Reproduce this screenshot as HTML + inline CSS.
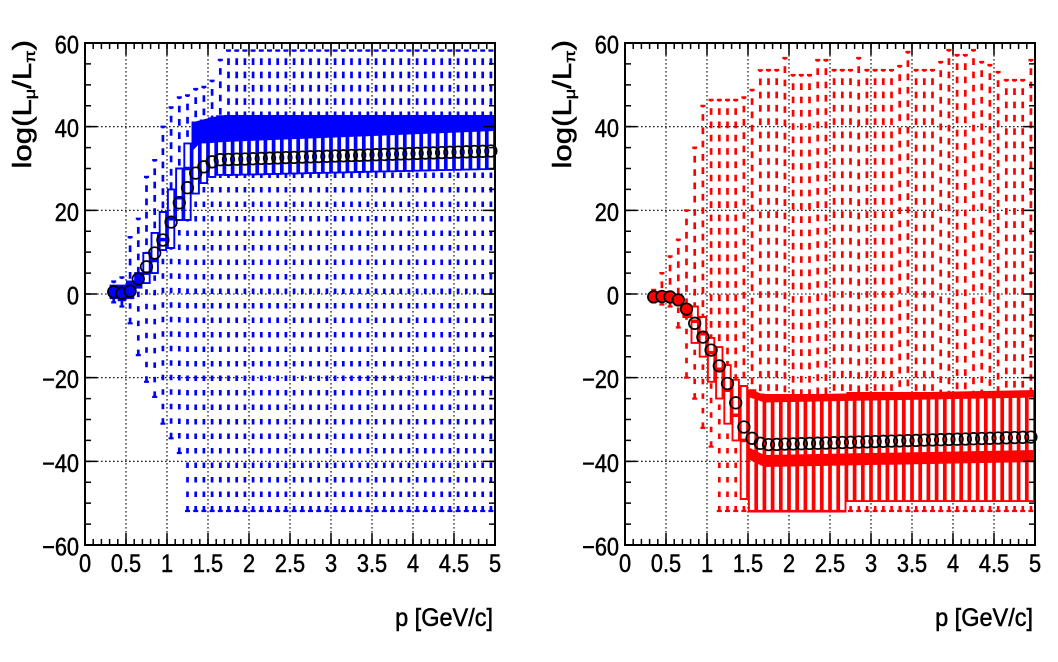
<!DOCTYPE html>
<html><head><meta charset="utf-8"><style>
html,body{margin:0;padding:0;background:#fff}
svg{display:block}
.t{font-family:"Liberation Sans",Arial,sans-serif;font-size:25px;fill:#000;stroke:#000;stroke-width:0.5}
.grid{fill:none;stroke:#000;stroke-width:1.1;stroke-dasharray:1.6 2.4;opacity:1}
.b{stroke:#0000ff}.r{stroke:#ff0000}
.wu{fill:none;stroke-width:2.7;stroke-dasharray:6.7 6.6;stroke-dashoffset:5}
.wl{fill:none;stroke-width:2.7;stroke-dasharray:5.5 9}
.cap{fill:none;stroke-width:2.2}
.box{fill:none;stroke-width:1.9}
.med{fill:none;stroke-width:3.5}
.mc{fill:none;stroke:#000;stroke-width:1.7}
.mc circle{r:5.8px}
.tk{stroke:#000;fill:none}
</style></head><body>
<svg width="1058" height="662" viewBox="0 0 1058 662" xmlns="http://www.w3.org/2000/svg">
<rect x="0" y="0" width="1058" height="662" fill="#fff"/>

<!-- ===== LEFT PANEL ===== -->
<path class="grid" d="M126 43V545M167 43V545M208 43V545M249 43V545M290 43V545M331 43V545M372 43V545M413 43V545M454 43V545M85 126.7H495M85 210.3H495M85 294H495M85 377.7H495M85 461.3H495"/>

<path class="wu b" d="M113.7 281.5V285.6M121.9 277.3V285.6M130.1 237.1V281.5M138.3 218.7V273.1M146.5 176.9V253M154.7 160.1V232.9M162.9 126.7V212M171.1 107.4V189.4M179.3 97.4V168.5M187.5 95.3V143.4M195.7 89V122.5M203.9 86.9V120.4M212.1 80.7V118.3M220.3 59.8V116.2M228.5 50V116M236.7 50V116M244.9 50V116M253.1 50V116M261.3 50V116M269.5 50V116M277.7 50V116M285.9 50V116M294.1 50V116M302.3 50V116M310.5 50V116M318.7 50V116M326.9 50V116M335.1 50V116M343.3 50V116M351.5 50V116M359.7 50V116M367.9 50V116M376.1 50V116M384.3 50V116M392.5 50V116M400.7 50V116M408.9 50V116M417.1 50V116M425.3 50V116M433.5 50V116M441.7 50V116M449.9 50V116M458.1 50V116M466.3 50V116M474.5 50V116M482.7 50V116M490.9 50V116"/>
<path class="wl b" d="M113.7 302.4V298.2M121.9 306.5V300.3M130.1 323.3V298.2M138.3 355.1V287.7M146.5 381.8V283.1M154.7 396.9V273.1M162.9 423.7V250.1M171.1 438.3V248M179.3 453V220M187.5 511.5V220M195.7 511.5V193.6M203.9 511.5V183.1M212.1 511.5V176.9M220.3 511.5V174.8M228.5 511.5V175M236.7 511.5V174.8M244.9 511.5V174.6M253.1 511.5V174.4M261.3 511.5V174.3M269.5 511.5V174.1M277.7 511.5V173.9M285.9 511.5V173.7M294.1 511.5V173.5M302.3 511.5V173.3M310.5 511.5V173.1M318.7 511.5V172.9M326.9 511.5V172.8M335.1 511.5V172.6M343.3 511.5V172.4M351.5 511.5V172.2M359.7 511.5V172M367.9 511.5V171.8M376.1 511.5V171.6M384.3 511.5V171.4M392.5 511.5V171.3M400.7 511.5V171.1M408.9 511.5V170.9M417.1 511.5V170.7M425.3 511.5V170.5M433.5 511.5V170.3M441.7 511.5V170.1M449.9 511.5V169.9M458.1 511.5V169.8M466.3 511.5V169.6M474.5 511.5V169.4M482.7 511.5V169.2M490.9 511.5V169"/>
<path class="cap b" d="M111.2 281.5h5M119.4 277.3h5M127.6 237.1h5M135.8 218.7h5M144 176.9h5M152.2 160.1h5M160.4 126.7h5M168.6 107.4h5M176.8 97.4h5M185 95.3h5M193.2 89h5M201.4 86.9h5M209.6 80.7h5M217.8 59.8h5M111.2 302.4h5M119.4 306.5h5M127.6 323.3h5M135.8 355.1h5M144 381.8h5M152.2 396.9h5M160.4 423.7h5M168.6 438.3h5M176.8 453h5"/>
<line class="b" x1="226" y1="50.5" x2="495" y2="50.5" stroke-width="2.2" stroke-dasharray="5 3.2"/>
<line class="b" x1="185" y1="511" x2="495" y2="511" stroke-width="2.2" stroke-dasharray="5 3.2"/>

<path class="b" fill="#0000ff" stroke-width="1.9" d="M110.5 285.6h6.4v12.6h-6.4zM118.7 285.6h6.4v14.7h-6.4zM126.9 281.5h6.4v16.7h-6.4zM135.1 273.1h6.4v14.6h-6.4z"/>
<path class="box b" d="M143.3 253h6.4v30.1h-6.4zM151.5 232.9h6.4v40.2h-6.4zM159.7 212h6.4v38.1h-6.4zM167.9 189.4h6.4v58.6h-6.4zM176.1 168.5h6.4v51.5h-6.4zM184.3 143.4h6.4v76.6h-6.4zM192.5 122.5h6.4v71.1h-6.4zM200.7 120.4h6.4v62.7h-6.4zM208.9 118.3h6.4v58.6h-6.4zM217.1 116.2h6.4v58.6h-6.4zM225.3 116h6.4v59h-6.4zM233.5 116h6.4v58.8h-6.4zM241.7 116h6.4v58.6h-6.4zM249.9 116h6.4v58.4h-6.4zM258.1 116h6.4v58.3h-6.4zM266.3 116h6.4v58.1h-6.4zM274.5 116h6.4v57.9h-6.4zM282.7 116h6.4v57.7h-6.4zM290.9 116h6.4v57.5h-6.4zM299.1 116h6.4v57.3h-6.4zM307.3 116h6.4v57.1h-6.4zM315.5 116h6.4v56.9h-6.4zM323.7 116h6.4v56.8h-6.4zM331.9 116h6.4v56.6h-6.4zM340.1 116h6.4v56.4h-6.4zM348.3 116h6.4v56.2h-6.4zM356.5 116h6.4v56h-6.4zM364.7 116h6.4v55.8h-6.4zM372.9 116h6.4v55.6h-6.4zM381.1 116h6.4v55.4h-6.4zM389.3 116h6.4v55.3h-6.4zM397.5 116h6.4v55.1h-6.4zM405.7 116h6.4v54.9h-6.4zM413.9 116h6.4v54.7h-6.4zM422.1 116h6.4v54.5h-6.4zM430.3 116h6.4v54.3h-6.4zM438.5 116h6.4v54.1h-6.4zM446.7 116h6.4v53.9h-6.4zM454.9 116h6.4v53.8h-6.4zM463.1 116h6.4v53.6h-6.4zM471.3 116h6.4v53.4h-6.4zM479.5 116h6.4v53.2h-6.4zM487.7 116h6.4v53h-6.4z"/>
<path class="med b" d="M143.3 273.1h6.4M151.5 260.5h6.4M159.7 239.6h6.4M167.9 218.7h6.4M176.1 197.8h6.4M184.3 168.5h6.4"/>
<polygon fill="#0000ff" points="191.6,122.5 199.8,120.4 208,118.3 216.2,116.5 224.4,116 495,116 495,131 224.4,142 216.2,142.5 208,143.4 199.8,143.4 191.6,151.8"/>

<g class="mc">
<circle cx="113.7" cy="291.9" r="5.8" fill="#0000ff"/><circle cx="121.9" cy="293.2" r="5.8" fill="#0000ff"/><circle cx="130.1" cy="291.1" r="5.8" fill="#0000ff"/>
<circle cx="138.3" cy="278.9" r="5.8"/><circle cx="146.5" cy="266.8" r="5.8"/><circle cx="154.7" cy="253" r="5.8"/><circle cx="162.9" cy="240" r="5.8"/><circle cx="171.1" cy="222.1" r="5.8"/><circle cx="179.3" cy="202.8" r="5.8"/><circle cx="187.5" cy="187.7" r="5.8"/><circle cx="195.7" cy="173.1" r="5.8"/><circle cx="203.9" cy="166.8" r="5.8"/><circle cx="212.1" cy="161.8" r="5.8"/><circle cx="220.3" cy="159.7" r="5.8"/>
<circle cx="228.5" cy="159.5" r="5.8"/><circle cx="236.7" cy="159.2" r="5.8"/><circle cx="244.9" cy="159" r="5.8"/><circle cx="253.1" cy="158.7" r="5.8"/><circle cx="261.3" cy="158.4" r="5.8"/><circle cx="269.5" cy="158.2" r="5.8"/><circle cx="277.7" cy="157.9" r="5.8"/><circle cx="285.9" cy="157.6" r="5.8"/><circle cx="294.1" cy="157.4" r="5.8"/><circle cx="302.3" cy="157.1" r="5.8"/><circle cx="310.5" cy="156.8" r="5.8"/><circle cx="318.7" cy="156.6" r="5.8"/><circle cx="326.9" cy="156.3" r="5.8"/><circle cx="335.1" cy="156" r="5.8"/><circle cx="343.3" cy="155.8" r="5.8"/><circle cx="351.5" cy="155.5" r="5.8"/><circle cx="359.7" cy="155.3" r="5.8"/><circle cx="367.9" cy="155" r="5.8"/><circle cx="376.1" cy="154.7" r="5.8"/><circle cx="384.3" cy="154.5" r="5.8"/><circle cx="392.5" cy="154.2" r="5.8"/><circle cx="400.7" cy="153.9" r="5.8"/><circle cx="408.9" cy="153.7" r="5.8"/><circle cx="417.1" cy="153.4" r="5.8"/><circle cx="425.3" cy="153.1" r="5.8"/><circle cx="433.5" cy="152.9" r="5.8"/><circle cx="441.7" cy="152.6" r="5.8"/><circle cx="449.9" cy="152.3" r="5.8"/><circle cx="458.1" cy="152.1" r="5.8"/><circle cx="466.3" cy="151.8" r="5.8"/><circle cx="474.5" cy="151.5" r="5.8"/><circle cx="482.7" cy="151.3" r="5.8"/><circle cx="490.9" cy="151" r="5.8"/>
</g>

<!-- left ticks & frame -->
<line class="tk" x1="84.25" y1="542" x2="496" y2="542" stroke-width="6" stroke-dasharray="1.5 6.7"/>
<line class="tk" x1="84.25" y1="539" x2="496" y2="539" stroke-width="12" stroke-dasharray="1.5 39.5"/>
<line class="tk" x1="84.25" y1="46" x2="496" y2="46" stroke-width="6" stroke-dasharray="1.5 6.7"/>
<line class="tk" x1="84.25" y1="49" x2="496" y2="49" stroke-width="12" stroke-dasharray="1.5 39.5"/>
<line class="tk" x1="88" y1="42.25" x2="88" y2="546" stroke-width="6" stroke-dasharray="1.5 19.4167"/>
<line class="tk" x1="91" y1="42.25" x2="91" y2="546" stroke-width="12" stroke-dasharray="1.5 82.1667"/>
<line class="tk" x1="492" y1="42.25" x2="492" y2="546" stroke-width="6" stroke-dasharray="1.5 19.4167"/>
<line class="tk" x1="489" y1="42.25" x2="489" y2="546" stroke-width="12" stroke-dasharray="1.5 82.1667"/>
<rect x="85" y="43" width="410" height="502" fill="none" stroke="#000" stroke-width="2"/>

<!-- ===== RIGHT PANEL ===== -->
<path class="grid" d="M666 43V545M707 43V545M748 43V545M789 43V545M830 43V545M871 43V545M912 43V545M953 43V545M994 43V545M625 126.7H1035M625 210.3H1035M625 294H1035M625 377.7H1035M625 461.3H1035"/>

<path class="wu r" d="M653.7 289.8V295.3M661.9 273.1V294.8M670.1 256.4V295.3M678.3 239.6V296.1M686.5 210.3V304.9M694.7 147.6V306.5M702.9 105.8V317M711.1 99.9V337.9M719.3 99.9V347.1M727.5 99.9V365.1M735.7 99.9V379.8M743.9 97.4V386M752.1 89.9V390.2M760.3 70.2V394.4M768.5 70V396M776.7 70V395.8M784.9 58V395.7M793.1 75V395.5M801.3 75V395.4M809.5 75V395.2M817.7 60V395.1M825.9 60V394.9M834.1 70V394.8M842.3 70V394.6M850.5 70V394.4M858.7 58V394.3M866.9 70V394.1M875.1 70V394M883.3 70V393.8M891.5 70V393.7M899.7 66V393.5M907.9 52V393.3M916.1 70V393.2M924.3 70V393M932.5 70V392.9M940.7 62V392.7M948.9 50V392.6M957.1 55V392.4M965.3 55V392.3M973.5 50V392.1M981.7 62V391.9M989.9 65V391.8M998.1 72V391.6M1006.3 80V391.5M1014.5 80V391.3M1022.7 80V391.2M1030.9 60V391"/>
<path class="wl r" d="M653.7 302.4V300.3M661.9 304.5V300.3M670.1 306.5V300.3M678.3 327.5V304.5M686.5 377.7V317M694.7 398.6V342.9M702.9 427.9V356.7M711.1 446.7V381.8M719.3 511.5V398.6M727.5 511.5V423.7M735.7 511.5V440.4M743.9 511.5V499"/>
<line class="r" x1="849.3" y1="508.7" x2="1035" y2="508.7" stroke-width="5.5" stroke-dasharray="2.6 5.6"/>
<path class="cap r" d="M651.2 289.8h5M659.4 273.1h5M667.6 256.4h5M675.8 239.6h5M684 210.3h5M692.2 147.6h5M700.4 105.8h5M708.6 99.9h5M716.8 99.9h5M725 99.9h5M733.2 99.9h5M741.4 97.4h5M749.6 89.9h5M757.8 70.2h5M766 70h5M774.2 70h5M782.4 58h5M790.6 75h5M798.8 75h5M807 75h5M815.2 60h5M823.4 60h5M831.6 70h5M839.8 70h5M848 70h5M856.2 58h5M864.4 70h5M872.6 70h5M880.8 70h5M889 70h5M897.2 66h5M905.4 52h5M913.6 70h5M921.8 70h5M930 70h5M938.2 62h5M946.4 50h5M954.6 55h5M962.8 55h5M971 50h5M979.2 62h5M987.4 65h5M995.6 72h5M1003.8 80h5M1012 80h5M1020.2 80h5M1028.4 60h5M651.2 302.4h5M659.4 304.5h5M667.6 306.5h5M675.8 327.5h5M684 377.7h5M692.2 398.6h5M700.4 427.9h5M708.6 446.7h5"/>
<line class="r" x1="716.8" y1="511" x2="1035" y2="511" stroke-width="2.2" stroke-dasharray="5 3.2"/>

<path class="r" fill="#ff0000" stroke-width="1.9" d="M650.5 295.3h6.4v5h-6.4zM658.7 294.8h6.4v5.5h-6.4zM666.9 295.3h6.4v5h-6.4zM675.1 296.1h6.4v8.4h-6.4zM683.3 304.9h6.4v12.1h-6.4z"/>
<path class="box r" d="M691.5 306.5h6.4v36.4h-6.4zM699.7 317h6.4v39.7h-6.4zM707.9 337.9h6.4v43.9h-6.4zM716.1 347.1h6.4v51.5h-6.4zM724.3 365.1h6.4v58.6h-6.4zM732.5 379.8h6.4v60.6h-6.4zM740.7 386h6.4v113h-6.4zM748.9 390.2h6.4v121.3h-6.4zM757.1 394.4h6.4v117.1h-6.4zM765.3 395h6.4v116.5h-6.4zM773.5 395h6.4v116.5h-6.4zM781.7 395h6.4v116.5h-6.4zM789.9 395h6.4v116.5h-6.4zM798.1 395h6.4v116.5h-6.4zM806.3 395h6.4v116.5h-6.4zM814.5 395h6.4v116.5h-6.4zM822.7 395h6.4v116.5h-6.4zM830.9 395h6.4v116.5h-6.4zM839.1 395h6.4v116.5h-6.4zM847.3 393h6.4v108.1h-6.4zM855.5 393h6.4v108.1h-6.4zM863.7 393h6.4v108.1h-6.4zM871.9 393h6.4v108.1h-6.4zM880.1 393h6.4v108.1h-6.4zM888.3 393h6.4v108.1h-6.4zM896.5 393h6.4v108.1h-6.4zM904.7 393h6.4v108.1h-6.4zM912.9 393h6.4v108.1h-6.4zM921.1 393h6.4v108.1h-6.4zM929.3 393h6.4v108.1h-6.4zM937.5 393h6.4v108.1h-6.4zM945.7 393h6.4v108.1h-6.4zM953.9 393h6.4v108.1h-6.4zM962.1 393h6.4v108.1h-6.4zM970.3 393h6.4v108.1h-6.4zM978.5 393h6.4v108.1h-6.4zM986.7 393h6.4v108.1h-6.4zM994.9 393h6.4v108.1h-6.4zM1003.1 393h6.4v108.1h-6.4zM1011.3 393h6.4v108.1h-6.4zM1019.5 393h6.4v108.1h-6.4zM1027.7 393h6.4v108.1h-6.4z"/>
<path class="med r" d="M691.5 321.2h6.4M699.7 333.7h6.4M707.9 352.6h6.4M716.1 369.3h6.4M724.3 390.2h6.4M732.5 415.3h6.4M740.7 440.4h6.4"/>
<polygon fill="#ff0000" points="747.9,390 756,391.5 764.2,395 1035,390 1035,397.5 764.2,402.5 756,399.5 747.9,397"/>
<polygon fill="#ff0000" points="747.9,447 756,451 764.2,455 1035,450 1035,462 764.2,467 756,463 747.9,459"/>

<g class="mc">
<circle cx="653.7" cy="296.9" r="5.8" fill="#ff0000"/><circle cx="661.9" cy="296.5" r="5.8" fill="#ff0000"/><circle cx="670.1" cy="296.9" r="5.8" fill="#ff0000"/><circle cx="678.3" cy="299.9" r="5.8" fill="#ff0000"/><circle cx="686.5" cy="309.1" r="5.8" fill="#ff0000"/>
<circle cx="694.7" cy="323.3" r="5.8"/><circle cx="702.9" cy="337.1" r="5.8"/><circle cx="711.1" cy="350.1" r="5.8"/><circle cx="719.3" cy="365.9" r="5.8"/><circle cx="727.5" cy="383.5" r="5.8"/><circle cx="735.7" cy="402.8" r="5.8"/><circle cx="743.9" cy="427" r="5.8"/><circle cx="752.1" cy="438.3" r="5.8"/><circle cx="760.3" cy="443.3" r="5.8"/>
<circle cx="768.5" cy="444.6" r="5.8"/><circle cx="776.7" cy="444.4" r="5.8"/><circle cx="784.9" cy="444.1" r="5.8"/><circle cx="793.1" cy="443.9" r="5.8"/><circle cx="801.3" cy="443.7" r="5.8"/><circle cx="809.5" cy="443.4" r="5.8"/><circle cx="817.7" cy="443.2" r="5.8"/><circle cx="825.9" cy="443" r="5.8"/><circle cx="834.1" cy="442.7" r="5.8"/><circle cx="842.3" cy="442.5" r="5.8"/><circle cx="850.5" cy="442.3" r="5.8"/><circle cx="858.7" cy="442" r="5.8"/><circle cx="866.9" cy="441.8" r="5.8"/><circle cx="875.1" cy="441.6" r="5.8"/><circle cx="883.3" cy="441.3" r="5.8"/><circle cx="891.5" cy="441.1" r="5.8"/><circle cx="899.7" cy="440.9" r="5.8"/><circle cx="907.9" cy="440.6" r="5.8"/><circle cx="916.1" cy="440.4" r="5.8"/><circle cx="924.3" cy="440.1" r="5.8"/><circle cx="932.5" cy="439.9" r="5.8"/><circle cx="940.7" cy="439.7" r="5.8"/><circle cx="948.9" cy="439.4" r="5.8"/><circle cx="957.1" cy="439.2" r="5.8"/><circle cx="965.3" cy="439" r="5.8"/><circle cx="973.5" cy="438.7" r="5.8"/><circle cx="981.7" cy="438.5" r="5.8"/><circle cx="989.9" cy="438.3" r="5.8"/><circle cx="998.1" cy="438" r="5.8"/><circle cx="1006.3" cy="437.8" r="5.8"/><circle cx="1014.5" cy="437.6" r="5.8"/><circle cx="1022.7" cy="437.3" r="5.8"/><circle cx="1030.9" cy="437.1" r="5.8"/>
</g>

<!-- right ticks & frame -->
<line class="tk" x1="624.25" y1="542" x2="1036" y2="542" stroke-width="6" stroke-dasharray="1.5 6.7"/>
<line class="tk" x1="624.25" y1="539" x2="1036" y2="539" stroke-width="12" stroke-dasharray="1.5 39.5"/>
<line class="tk" x1="624.25" y1="46" x2="1036" y2="46" stroke-width="6" stroke-dasharray="1.5 6.7"/>
<line class="tk" x1="624.25" y1="49" x2="1036" y2="49" stroke-width="12" stroke-dasharray="1.5 39.5"/>
<line class="tk" x1="628" y1="42.25" x2="628" y2="546" stroke-width="6" stroke-dasharray="1.5 19.4167"/>
<line class="tk" x1="631" y1="42.25" x2="631" y2="546" stroke-width="12" stroke-dasharray="1.5 82.1667"/>
<line class="tk" x1="1032" y1="42.25" x2="1032" y2="546" stroke-width="6" stroke-dasharray="1.5 19.4167"/>
<line class="tk" x1="1029" y1="42.25" x2="1029" y2="546" stroke-width="12" stroke-dasharray="1.5 82.1667"/>
<rect x="625" y="43" width="410" height="502" fill="none" stroke="#000" stroke-width="2"/>

<!-- ===== LABELS ===== -->
<g class="t" text-anchor="end">
<text transform="translate(79,53.5) scale(0.87,1)">60</text>
<text transform="translate(79,137.2) scale(0.87,1)">40</text>
<text transform="translate(79,220.8) scale(0.87,1)">20</text>
<text transform="translate(79,304.5) scale(0.87,1)">0</text>
<text transform="translate(79,388.2) scale(0.87,1)">−20</text>
<text transform="translate(79,471.8) scale(0.87,1)">−40</text>
<text transform="translate(79,555.5) scale(0.87,1)">−60</text>
<text transform="translate(619,53.5) scale(0.87,1)">60</text>
<text transform="translate(619,137.2) scale(0.87,1)">40</text>
<text transform="translate(619,220.8) scale(0.87,1)">20</text>
<text transform="translate(619,304.5) scale(0.87,1)">0</text>
<text transform="translate(619,388.2) scale(0.87,1)">−20</text>
<text transform="translate(619,471.8) scale(0.87,1)">−40</text>
<text transform="translate(619,555.5) scale(0.87,1)">−60</text>
<text transform="translate(493,626) scale(0.94,1)">p [GeV/c]</text>
<text transform="translate(1033,626) scale(0.94,1)">p [GeV/c]</text>
</g>
<g class="t" text-anchor="middle">
<text transform="translate(85,572) scale(0.87,1)">0</text>
<text transform="translate(126,572) scale(0.87,1)">0.5</text>
<text transform="translate(167,572) scale(0.87,1)">1</text>
<text transform="translate(208,572) scale(0.87,1)">1.5</text>
<text transform="translate(249,572) scale(0.87,1)">2</text>
<text transform="translate(290,572) scale(0.87,1)">2.5</text>
<text transform="translate(331,572) scale(0.87,1)">3</text>
<text transform="translate(372,572) scale(0.87,1)">3.5</text>
<text transform="translate(413,572) scale(0.87,1)">4</text>
<text transform="translate(454,572) scale(0.87,1)">4.5</text>
<text transform="translate(495,572) scale(0.87,1)">5</text>
<text transform="translate(625,572) scale(0.87,1)">0</text>
<text transform="translate(666,572) scale(0.87,1)">0.5</text>
<text transform="translate(707,572) scale(0.87,1)">1</text>
<text transform="translate(748,572) scale(0.87,1)">1.5</text>
<text transform="translate(789,572) scale(0.87,1)">2</text>
<text transform="translate(830,572) scale(0.87,1)">2.5</text>
<text transform="translate(871,572) scale(0.87,1)">3</text>
<text transform="translate(912,572) scale(0.87,1)">3.5</text>
<text transform="translate(953,572) scale(0.87,1)">4</text>
<text transform="translate(994,572) scale(0.87,1)">4.5</text>
<text transform="translate(1035,572) scale(0.87,1)">5</text>
</g>
<text class="t" style="font-size:26px" text-anchor="end" transform="translate(31,40) rotate(-90) scale(1.2,1)">log(L<tspan style="font-size:15px" dy="4">μ</tspan><tspan dy="-4">/L</tspan><tspan style="font-size:15px" dy="4">π</tspan><tspan dy="-4">)</tspan></text>
<text class="t" style="font-size:26px" text-anchor="end" transform="translate(571,40) rotate(-90) scale(1.2,1)">log(L<tspan style="font-size:15px" dy="4">μ</tspan><tspan dy="-4">/L</tspan><tspan style="font-size:15px" dy="4">π</tspan><tspan dy="-4">)</tspan></text>
</svg>
</body></html>
